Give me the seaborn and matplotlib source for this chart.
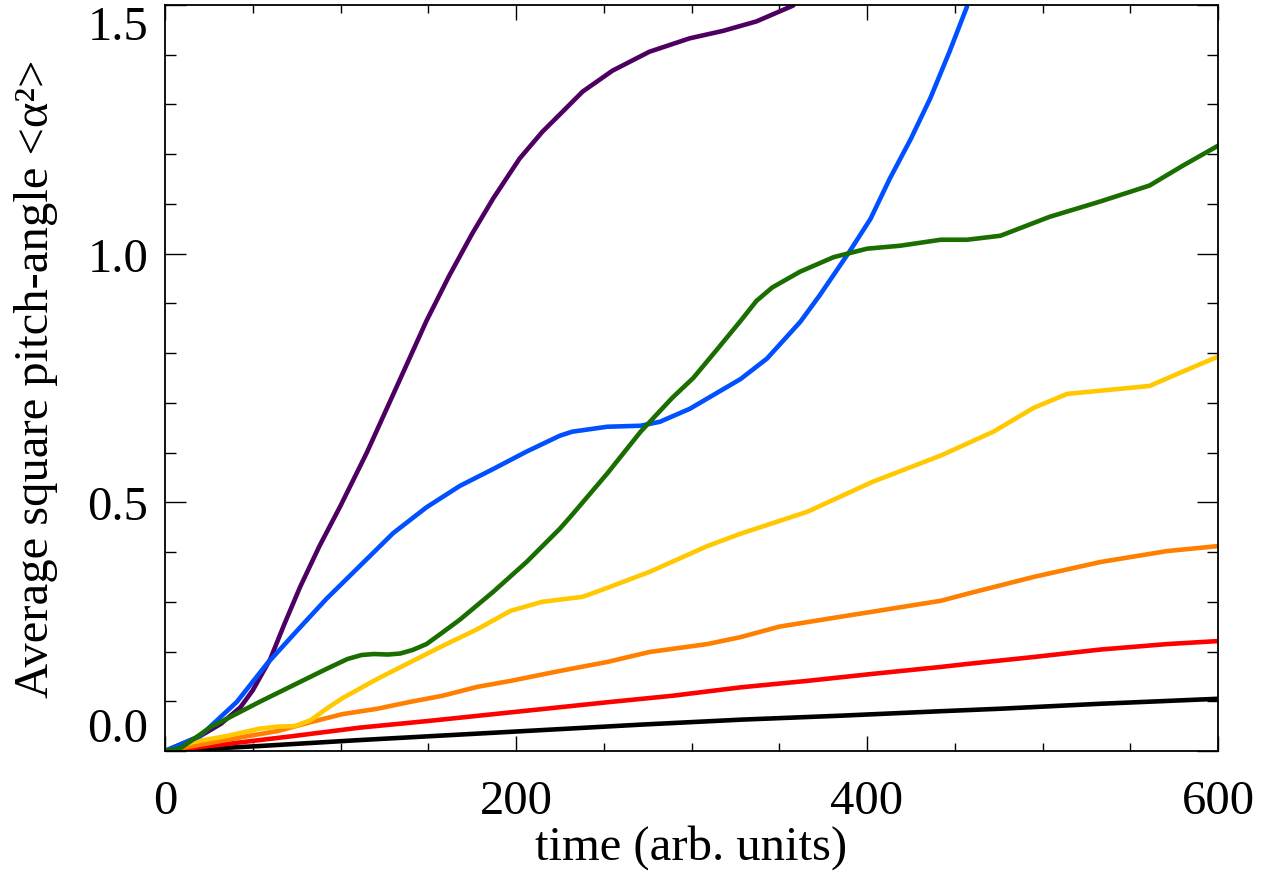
import numpy as np
import pandas as pd
import matplotlib
matplotlib.use("Agg")
import matplotlib.pyplot as plt
import seaborn as sns
from matplotlib.ticker import MultipleLocator

# values (time, <alpha^2>)
black_t = [0, 54, 111, 168, 225, 271, 328, 385, 442, 476, 533, 600]
black_v = [0.0, 0.010, 0.022, 0.033, 0.044, 0.053, 0.063, 0.071, 0.080, 0.085, 0.095, 0.105]

red_t = [0, 35, 73, 111, 149, 187, 225, 252, 289, 328, 366, 403, 442, 457, 495, 533, 571, 600]
red_v = [0.0, 0.014, 0.030, 0.047, 0.060, 0.074, 0.088, 0.098, 0.111, 0.128, 0.141, 0.155,
         0.169, 0.175, 0.189, 0.204, 0.215, 0.221]

orange_t = [0, 16, 44, 64, 83, 101, 121, 140, 158, 178, 197, 225, 252, 276, 309, 328, 350,
            385, 403, 442, 457, 495, 533, 571, 600]
orange_v = [0.0, 0.010, 0.028, 0.040, 0.058, 0.074, 0.085, 0.099, 0.111, 0.129, 0.141, 0.161,
            0.179, 0.199, 0.215, 0.229, 0.250, 0.270, 0.280, 0.302, 0.316, 0.350, 0.380,
            0.402, 0.412]

yellow_t = [0, 16, 35, 54, 64, 74, 83, 92, 101, 121, 140, 158, 178, 197, 215, 238, 252, 276,
            309, 328, 366, 403, 442, 447, 472, 495, 514, 561, 580, 600]
yellow_v = [0.0, 0.018, 0.030, 0.045, 0.049, 0.050, 0.062, 0.085, 0.106, 0.145, 0.179, 0.211,
            0.245, 0.282, 0.300, 0.310, 0.328, 0.360, 0.412, 0.437, 0.481, 0.541, 0.594,
            0.602, 0.642, 0.690, 0.718, 0.734, 0.763, 0.793]

purple_t = [0, 20, 32, 43, 50, 60, 68, 77, 88, 100, 115, 134, 149, 162, 175, 187, 202, 215,
            225, 238, 255, 276, 299, 318, 337, 358]
purple_v = [0.0, 0.030, 0.055, 0.088, 0.122, 0.185, 0.255, 0.330, 0.412, 0.493, 0.600, 0.748,
            0.865, 0.956, 1.040, 1.111, 1.191, 1.245, 1.280, 1.326, 1.368, 1.406, 1.433,
            1.448, 1.467, 1.499]

blue_t = [0, 20, 41, 58, 75, 92, 111, 130, 149, 168, 187, 206, 225, 232, 252, 271, 282, 299,
          328, 343, 362, 373, 390, 402, 413, 425, 436, 447, 457]
blue_v = [0.0, 0.030, 0.099, 0.175, 0.241, 0.306, 0.372, 0.438, 0.490, 0.533, 0.567, 0.602,
          0.634, 0.642, 0.652, 0.654, 0.662, 0.688, 0.748, 0.789, 0.863, 0.916, 1.004, 1.070,
          1.151, 1.231, 1.312, 1.406, 1.497]

green_t = [0, 9, 26, 54, 77, 92, 104, 112, 119, 127, 134, 141, 149, 158, 168, 187, 206, 225,
           232, 252, 271, 289, 301, 314, 328, 337, 346, 362, 381, 400, 419, 442, 457, 476,
           504, 533, 561, 580, 600]
green_v = [0.0, 0.006, 0.048, 0.099, 0.139, 0.165, 0.185, 0.193, 0.195, 0.194, 0.196, 0.203,
           0.215, 0.238, 0.264, 0.320, 0.380, 0.447, 0.475, 0.558, 0.642, 0.710, 0.750,
           0.805, 0.865, 0.905, 0.932, 0.964, 0.993, 1.010, 1.016, 1.028, 1.028, 1.036,
           1.074, 1.105, 1.137, 1.177, 1.217]

series_names = ["black", "red", "orange", "yellow", "purple", "blue", "green"]
series_t = [black_t, red_t, orange_t, yellow_t, purple_t, blue_t, green_t]
series_v = [black_v, red_v, orange_v, yellow_v, purple_v, blue_v, green_v]
colors = {"black": "#000000", "red": "#FF0000", "orange": "#FF7F00", "yellow": "#FFC800",
          "purple": "#4E0062", "blue": "#0050FF", "green": "#1A6E00"}

frames = []
for name, t, v in zip(series_names, series_t, series_v):
    frames.append(pd.DataFrame({"time": t, "value": v, "series": name}))
df = pd.concat(frames, ignore_index=True)

sns.set_style("ticks")
plt.rcParams["font.family"] = ["Liberation Serif", "DejaVu Serif"]
plt.rcParams["text.color"] = "black"
plt.rcParams["axes.labelcolor"] = "black"

fig = plt.figure(figsize=(12.78, 8.79), dpi=100)
ax = fig.add_axes([165 / 1278, 1 - 752 / 879, (1218 - 165) / 1278, (752 - 6) / 879])

sns.lineplot(data=df, x="time", y="value", hue="series", hue_order=series_names,
             palette=colors, estimator=None, sort=False, linewidth=3.3, legend=False, ax=ax)
for line in ax.lines:
    line.set_solid_joinstyle("round")
    line.set_solid_capstyle("round")

ax.set_xlim(0, 600)
ax.set_ylim(0, 1.5)
ax.xaxis.set_major_locator(MultipleLocator(200))
ax.xaxis.set_minor_locator(MultipleLocator(50))
ax.yaxis.set_major_locator(MultipleLocator(0.5))
ax.yaxis.set_minor_locator(MultipleLocator(0.1))
ax.yaxis.set_major_formatter(plt.FormatStrFormatter("%.1f"))

for s in ax.spines.values():
    s.set_linewidth(1.3)
    s.set_color("black")

ax.tick_params(axis="both", which="both", direction="in", top=True, right=True,
               colors="black", labelsize=35)
ax.tick_params(axis="x", which="major", length=11, width=1, pad=20)
ax.tick_params(axis="x", which="minor", length=5.5, width=1)
ax.tick_params(axis="y", which="major", length=15, width=1, pad=12)
ax.tick_params(axis="y", which="minor", length=8, width=1)

ax.set_xlabel("time (arb. units)", fontsize=35, labelpad=1)
ax.set_ylabel("Average square pitch-angle <α²>", fontsize=35, labelpad=21)

# keep the end labels inside the figure, as in the reference
fig.canvas.draw()
for tick in ax.yaxis.get_major_ticks():
    loc = tick.get_loc()
    if abs(loc - 0.0) < 1e-6:
        tick.label1.set_verticalalignment("bottom")
    elif abs(loc - 1.5) < 1e-6:
        tick.label1.set_verticalalignment("top")

fig.savefig("out.png", dpi=100)
